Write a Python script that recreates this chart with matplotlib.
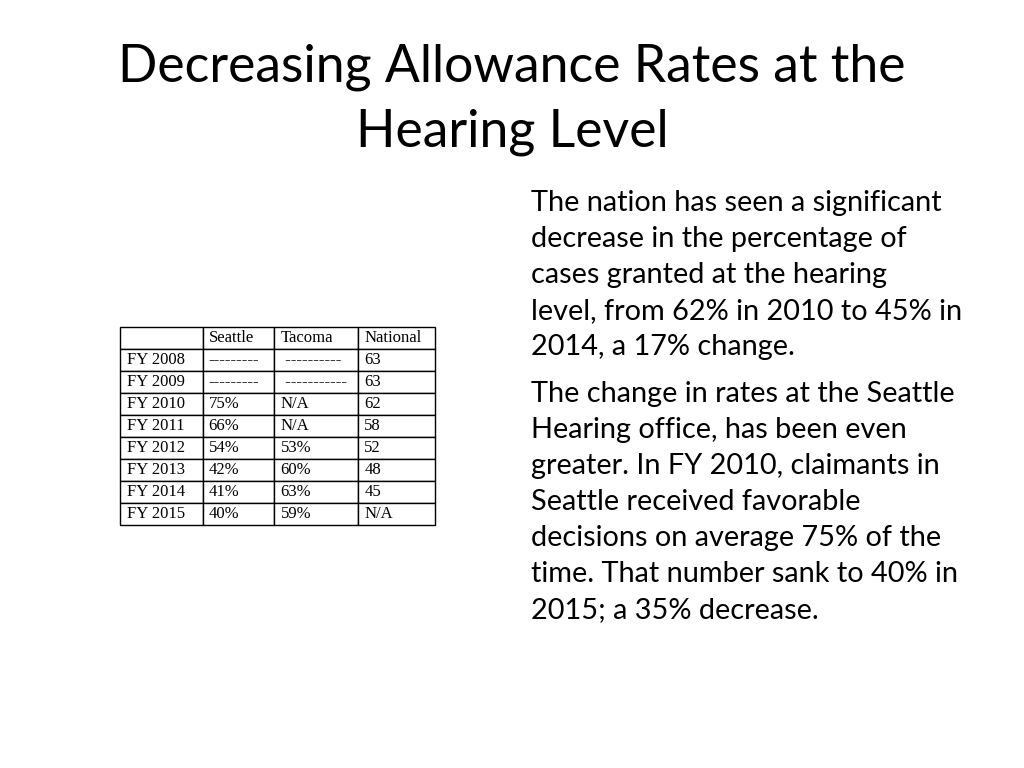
import matplotlib
matplotlib.use("Agg")
import matplotlib.pyplot as plt

# Данные таблицы
columns = ["", "Seattle", "Tacoma", "National"]
years = ["FY 2008", "FY 2009", "FY 2010", "FY 2011", "FY 2012", "FY 2013", "FY 2014", "FY 2015"]
seattle = ["---------", "---------", "75%", "66%", "54%", "42%", "41%", "40%"]
tacoma = [" ----------", " -----------", "N/A", "N/A", "53%", "60%", "63%", "59%"]
national = ["63", "63", "62", "58", "52", "48", "45", "N/A"]

title_lines = ["Decreasing Allowance Rates at the", "Hearing Level"]
para1 = ["The nation has seen a significant",
         "decrease in the percentage of",
         "cases granted at the hearing",
         "level, from 62% in 2010 to 45% in",
         "2014, a 17% change."]
para2 = ["The change in rates at the Seattle",
         "Hearing office, has been even",
         "greater. In FY 2010, claimants in",
         "Seattle received favorable",
         "decisions on average 75% of the",
         "time. That number sank to 40% in",
         "2015; a 35% decrease."]

W, H = 1024, 768
fig = plt.figure(figsize=(W / 100, H / 100), dpi=100)

# Заголовок
for i, line in enumerate(title_lines):
    fig.text(512 / W, 1 - (67 + i * 65) / H, line, ha="center", va="center",
             fontsize=37.3, family="Lato", color="#000000")

# Текст справа
for i, line in enumerate(para1):
    fig.text(531 / W, 1 - (203 + i * 36) / H, line, ha="left", va="center",
             fontsize=20.8, family="Lato")
for i, line in enumerate(para2):
    fig.text(531 / W, 1 - (394 + i * 36) / H, line, ha="left", va="center",
             fontsize=20.8, family="Lato")

# Таблица
x0, x1, y0, y1 = 120, 435, 327, 525
ax = fig.add_axes([x0 / W, 1 - y1 / H, (x1 - x0) / W, (y1 - y0) / H])
ax.axis("off")
rows = [columns] + [[years[i], seattle[i], tacoma[i], national[i]] for i in range(len(years))]
widths = [83, 71, 84, 77]
tot = sum(widths)
tbl = ax.table(cellText=rows, cellLoc="left", bbox=[0, 0, 1, 1],
               colWidths=[w / tot for w in widths])
tbl.auto_set_font_size(False)
for (r, c), cell in tbl.get_celld().items():
    cell.set_linewidth(1.0)
    cell.set_edgecolor("black")
    cell.PAD = 0.08
    cell.get_text().set_fontsize(12)
    cell.get_text().set_family("Liberation Serif")

fig.savefig("out.png", dpi=100)
